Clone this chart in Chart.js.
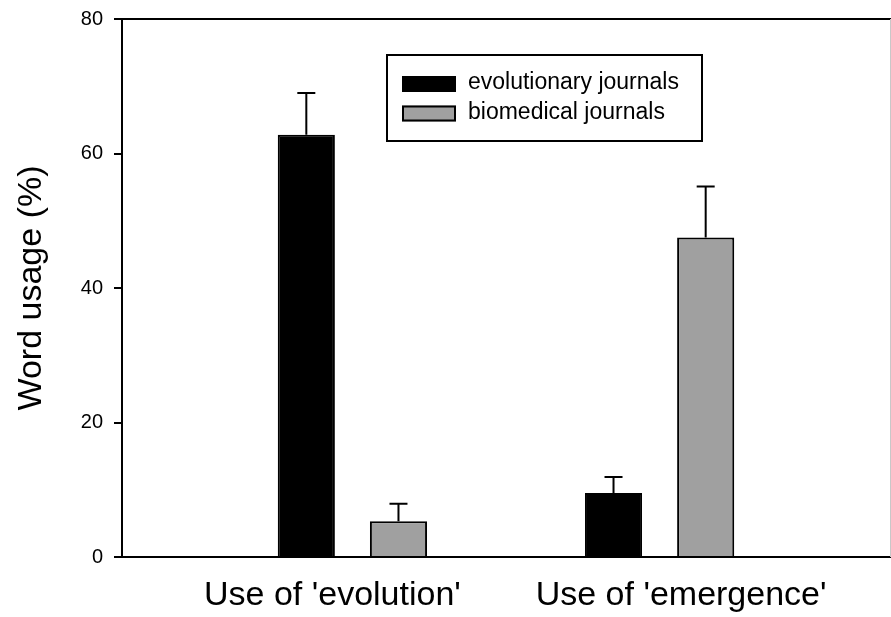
<!DOCTYPE html>
<html>
<head>
<meta charset="utf-8">
<script src="https://cdn.jsdelivr.net/npm/chart.js@4"></script>
<style>
  body { margin: 0; background: #fff; }
</style>
</head>
<body>
<canvas id="myChart" width="891" height="617"></canvas>
<script>
// data
const categories = ["Use of 'evolution'", "Use of 'emergence'"];
const seriesNames = ["evolutionary journals", "biomedical journals"];
const evolutionary = [62.8, 9.5];
const evolutionaryErr = [6.2, 2.4];
const biomedical = [5.3, 47.5];
const biomedicalErr = [2.6, 7.6];
const yTicks = [0, 20, 40, 60, 80];

// where the category labels sit on the x scale (they are a little off the bar groups)
const labelPos = [-0.065, 1.07];

const FONT = "'Liberation Sans', Arial, Helvetica, sans-serif";

// error bars, upward only
const errorBars = {
  id: "errorBars",
  afterDatasetsDraw(chart) {
    const ctx = chart.ctx;
    const y = chart.scales.y;
    chart.data.datasets.forEach((ds, di) => {
      const meta = chart.getDatasetMeta(di);
      meta.data.forEach((bar, i) => {
        const top = y.getPixelForValue(ds.data[i].y + ds.errors[i]);
        ctx.save();
        ctx.strokeStyle = "#000";
        ctx.lineWidth = 2;
        ctx.beginPath();
        ctx.moveTo(bar.x, bar.y);
        ctx.lineTo(bar.x, top);
        ctx.moveTo(bar.x - 9, top);
        ctx.lineTo(bar.x + 9, top);
        ctx.stroke();
        ctx.restore();
      });
    });
  }
};

// top frame line + faint right edge
const frame = {
  id: "frame",
  afterDraw(chart) {
    const { ctx, chartArea: a } = chart;
    ctx.save();
    ctx.strokeStyle = "#000";
    ctx.lineWidth = 2;
    ctx.beginPath();
    ctx.moveTo(a.left, a.top);
    ctx.lineTo(a.right + 1, a.top);
    ctx.stroke();
    ctx.strokeStyle = "#c8c8c8";
    ctx.lineWidth = 1;
    ctx.beginPath();
    ctx.moveTo(a.right + 0.5, a.top);
    ctx.lineTo(a.right + 0.5, a.bottom);
    ctx.stroke();
    ctx.restore();
  }
};

// boxed legend inside the plot
const boxLegend = {
  id: "boxLegend",
  afterDraw(chart) {
    const { ctx, chartArea: a } = chart;
    const x0 = a.left + 265, y0 = a.top + 36, w = 315, h = 86;
    ctx.save();
    ctx.fillStyle = "#fff";
    ctx.fillRect(x0, y0, w, h);
    ctx.strokeStyle = "#000";
    ctx.lineWidth = 2;
    ctx.strokeRect(x0, y0, w, h);
    chart.data.datasets.forEach((ds, i) => {
      const sy = y0 + 21 + i * 29.5;
      ctx.fillStyle = ds.backgroundColor;
      ctx.fillRect(x0 + 15, sy, 54, 16);
      ctx.lineWidth = 2;
      ctx.strokeRect(x0 + 16, sy + 1, 52, 14);
      ctx.fillStyle = "#000";
      ctx.font = "23px " + FONT;
      ctx.textBaseline = "middle";
      ctx.fillText(ds.label, x0 + 81, sy + 7);
    });
    ctx.restore();
  }
};

const myChartRef = document.getElementById("myChart").getContext("2d");

new Chart(myChartRef, {
  type: "bar",
  data: {
    datasets: [
      {
        label: seriesNames[0],
        data: evolutionary.map((v, i) => ({ x: i, y: v })),
        errors: evolutionaryErr,
        backgroundColor: "#000000",
        borderColor: "#000000",
        borderWidth: 2
      },
      {
        label: seriesNames[1],
        data: biomedical.map((v, i) => ({ x: i, y: v })),
        errors: biomedicalErr,
        backgroundColor: "#a0a0a0",
        borderColor: "#000000",
        borderWidth: 2
      }
    ]
  },
  options: {
    responsive: false,
    animation: false,
    categoryPercentage: 0.6,
    barPercentage: 0.62,
    layout: { padding: { top: 19, right: 1, left: 0, bottom: 0 } },
    plugins: {
      legend: { display: false },
      tooltip: { enabled: false }
    },
    scales: {
      x: {
        type: "linear",
        min: -0.75,
        max: 1.75,
        offset: false,
        grid: { display: false, drawTicks: false, offset: false },
        border: { display: true, color: "#000", width: 2 },
        afterBuildTicks: (scale) => {
          scale.ticks = labelPos.map(v => ({ value: v }));
        },
        afterFit: (scale) => {
          scale.height = 60;
          scale.paddingLeft = 0;
          scale.paddingRight = 0;
        },
        ticks: {
          autoSkip: false,
          maxRotation: 0,
          padding: 18,
          color: "#000",
          font: { family: FONT, size: 34 },
          callback: (value, index) => categories[index]
        }
      },
      y: {
        min: 0,
        max: 80,
        afterBuildTicks: (scale) => {
          scale.ticks = yTicks.map(v => ({ value: v }));
        },
        afterFit: (scale) => {
          scale.width = 122;
          scale.paddingTop = 0;
          scale.paddingBottom = 0;
        },
        grid: {
          drawOnChartArea: false,
          tickLength: 8,
          color: "#000",
          lineWidth: 2
        },
        border: { display: true, color: "#000", width: 2 },
        ticks: {
          padding: 11,
          color: "#000",
          font: { family: FONT, size: 20 }
        },
        title: {
          display: true,
          text: "Word usage (%)",
          color: "#000",
          padding: { top: 11, bottom: 0 },
          font: { family: FONT, size: 34 }
        }
      }
    }
  },
  plugins: [errorBars, frame, boxLegend]
});
</script>
</body>
</html>
